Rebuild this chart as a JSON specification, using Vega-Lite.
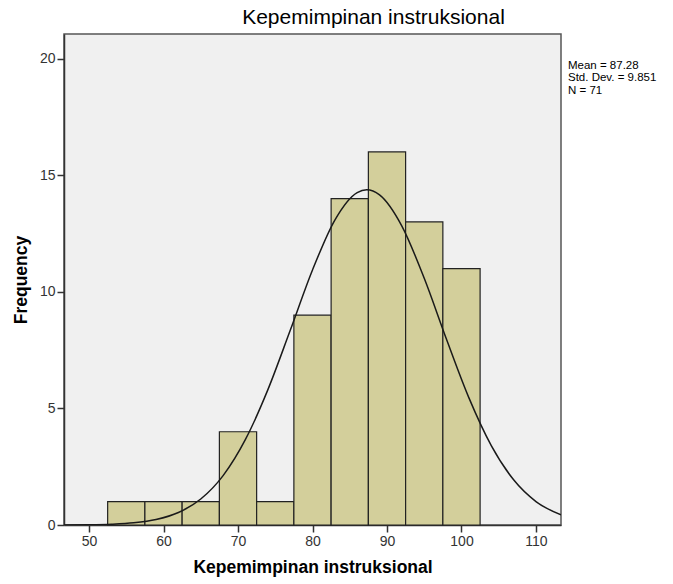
{
  "$schema": "https://vega.github.io/schema/vega-lite/v6.json",
  "width": 497,
  "height": 491,
  "autosize": {"type": "none"},
  "padding": {"left": 64, "top": 34, "right": 112, "bottom": 59},
  "background": "white",
  "config": {
    "font": "Liberation Sans",
    "view": {"fill": "#F0F0F0", "stroke": "#555555", "strokeWidth": 1.5},
    "axis": {
      "grid": false,
      "labelFont": "Liberation Sans",
      "labelFontSize": 14,
      "labelColor": "#333333",
      "tickColor": "#333333",
      "domainColor": "#333333",
      "tickSize": 7,
      "tickWidth": 1.5,
      "domainWidth": 1.5,
      "titleFont": "Liberation Sans",
      "titleFontSize": 17.5,
      "titleFontWeight": "bold",
      "titleColor": "#000000"
    }
  },
  "title": {
    "text": "Kepemimpinan instruksional",
    "font": "Liberation Sans",
    "fontSize": 21,
    "fontWeight": "normal",
    "color": "#000000",
    "anchor": "middle",
    "dx": 61,
    "offset": 6
  },
  "datasets": {
    "bins": [
      {"lo": 52.5, "hi": 57.5, "count": 1},
      {"lo": 57.5, "hi": 62.5, "count": 1},
      {"lo": 62.5, "hi": 67.5, "count": 1},
      {"lo": 67.5, "hi": 72.5, "count": 4},
      {"lo": 72.5, "hi": 77.5, "count": 1},
      {"lo": 77.5, "hi": 82.5, "count": 9},
      {"lo": 82.5, "hi": 87.5, "count": 14},
      {"lo": 87.5, "hi": 92.5, "count": 16},
      {"lo": 92.5, "hi": 97.5, "count": 13},
      {"lo": 97.5, "hi": 102.5, "count": 11}
    ],
    "curve": [
      {"x": 46.64, "y": 0.003},
      {"x": 50, "y": 0.011},
      {"x": 53, "y": 0.034},
      {"x": 56, "y": 0.093},
      {"x": 59, "y": 0.233},
      {"x": 62, "y": 0.534},
      {"x": 65, "y": 1.114},
      {"x": 68, "y": 2.118},
      {"x": 71, "y": 3.67},
      {"x": 74, "y": 5.796},
      {"x": 77, "y": 8.342},
      {"x": 80, "y": 10.94},
      {"x": 83, "y": 13.08},
      {"x": 86, "y": 14.26},
      {"x": 87.28, "y": 14.38},
      {"x": 89, "y": 14.16},
      {"x": 92, "y": 12.82},
      {"x": 95, "y": 10.58},
      {"x": 98, "y": 7.955},
      {"x": 101, "y": 5.452},
      {"x": 104, "y": 3.405},
      {"x": 107, "y": 1.938},
      {"x": 110, "y": 1.006},
      {"x": 113.36, "y": 0.432}
    ],
    "stats": [
      {"x": 113.36, "y": 20, "label": "Mean = 87.28\nStd. Dev. = 9.851\nN = 71"}
    ]
  },
  "layer": [
    {
      "data": {"name": "bins"},
      "mark": {"type": "rect", "fill": "#D3CF9B", "stroke": "#222222", "strokeWidth": 1.2},
      "encoding": {
        "x": {
          "field": "lo", "type": "quantitative",
          "scale": {"domain": [46.64, 113.36], "nice": false, "zero": false},
          "axis": {"values": [50, 60, 70, 80, 90, 100, 110], "title": "Kepemimpinan instruksional", "titlePadding": 10, "labelPadding": 2}
        },
        "x2": {"field": "hi"},
        "y": {
          "field": "count", "type": "quantitative",
          "scale": {"domain": [0, 21.06], "nice": false},
          "axis": {"values": [0, 5, 10, 15, 20], "title": "Frequency", "titlePadding": 9, "labelPadding": 2}
        },
        "y2": {"datum": 0}
      }
    },
    {
      "data": {"name": "curve"},
      "mark": {"type": "line", "color": "#1a1a1a", "strokeWidth": 1.5, "interpolate": "monotone", "clip": true},
      "encoding": {
        "x": {"field": "x", "type": "quantitative"},
        "y": {"field": "y", "type": "quantitative"}
      }
    },
    {
      "data": {"name": "stats"},
      "mark": {"type": "text", "align": "left", "baseline": "top", "dx": 7, "dy": 1, "fontSize": 11.5, "lineHeight": 12.5, "lineBreak": "\n", "color": "#000000", "font": "Liberation Sans"},
      "encoding": {
        "x": {"field": "x", "type": "quantitative"},
        "y": {"field": "y", "type": "quantitative"},
        "text": {"field": "label"}
      }
    }
  ]
}
